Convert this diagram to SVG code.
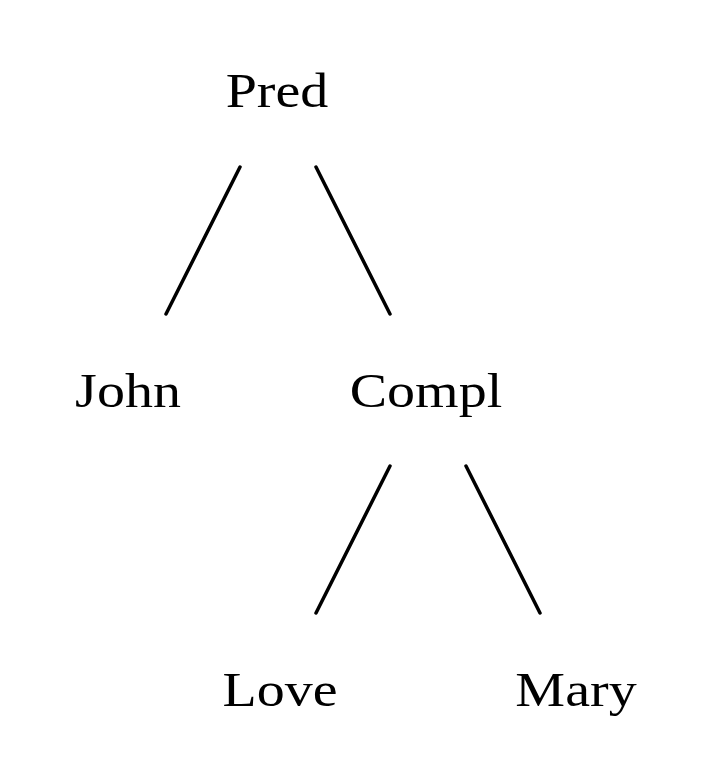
<svg xmlns="http://www.w3.org/2000/svg" width="705" height="780" viewBox="0 0 705 780">
<style>
text{font-family:"Liberation Serif","Times New Roman",serif;font-size:56px;fill:#000;text-anchor:middle}
line{stroke:#000;stroke-width:3.5;stroke-linecap:round}
</style>
<rect width="705" height="780" fill="#fff"/>
<g id="connectors">
<line x1="240" y1="167" x2="166" y2="314"/>
<line x1="316" y1="167" x2="390" y2="314"/>
<line x1="390" y1="466" x2="316" y2="613"/>
<line x1="466" y1="466" x2="540" y2="613"/>
</g>
<g id="pred"><text transform="translate(277,107) scale(1,0.86)">Pred</text></g>
<g id="john"><text transform="translate(128,407) scale(1,0.86)">John</text></g>
<g id="compl"><text transform="translate(426,407) scale(1,0.86)">Compl</text></g>
<g id="love"><text transform="translate(280,706) scale(1,0.86)">Love</text></g>
<g id="mary"><text transform="translate(576,706) scale(1,0.86)">Mary</text></g>
</svg>
